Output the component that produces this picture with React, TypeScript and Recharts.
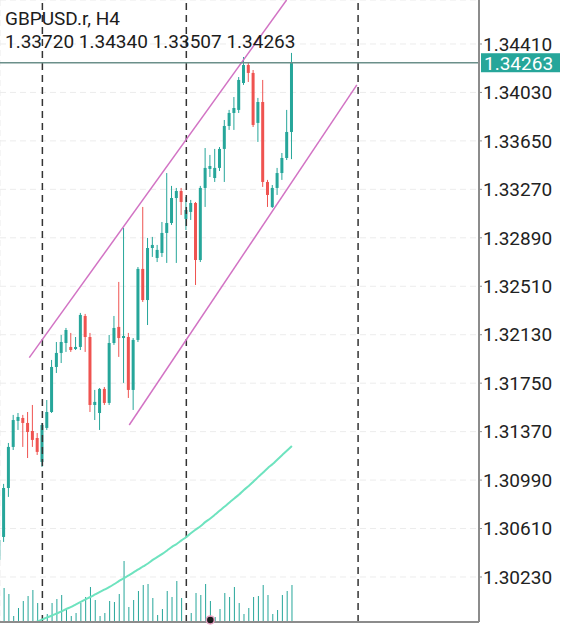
import { ComposedChart, Bar, Line, XAxis, YAxis, CartesianGrid, ReferenceLine, ReferenceDot } from 'recharts';

const SYMBOL = 'GBPUSD.r, H4';

// H4 candles, oldest first
const OPEN = [
  1.30364, 1.30544, 1.30928, 1.3125, 1.31454, 1.31477, 1.31438, 1.31375, 1.3132, 1.31132,
  1.31399, 1.31524, 1.31877, 1.31987, 1.32065, 1.32034, 1.32018, 1.32034, 1.32277, 1.32112,
  1.31579, 1.31516, 1.31705, 1.31595, 1.32065, 1.32191, 1.32104, 1.32112, 1.31697, 1.32089,
  1.32646, 1.32402, 1.3281, 1.32732, 1.32771, 1.32928, 1.33006, 1.33202, 1.33257, 1.33038,
  1.33093, 1.33163, 1.32716, 1.33281, 1.3343, 1.33359, 1.33438, 1.33587, 1.33767, 1.33869,
  1.33893, 1.34104, 1.34245, 1.34183, 1.33791, 1.33955, 1.33328, 1.33132, 1.33281, 1.33398,
  1.33516, 1.3372,
];
const HIGH = [
  1.30544, 1.3096, 1.31281, 1.31501, 1.31516, 1.31501, 1.31524, 1.31579, 1.31359, 1.31438,
  1.31618, 1.31932, 1.32073, 1.32128, 1.32183, 1.32144, 1.32112, 1.32301, 1.32293, 1.32144,
  1.31697, 1.31712, 1.3172, 1.32128, 1.32277, 1.32544, 1.32967, 1.32144, 1.32104, 1.32661,
  1.33132, 1.32889, 1.32897, 1.32834, 1.33014, 1.33398, 1.33297, 1.33281, 1.33281, 1.3321,
  1.33187, 1.33171, 1.33297, 1.33594, 1.3354, 1.33587, 1.33602, 1.33814, 1.33893, 1.33994,
  1.34151, 1.34308, 1.34261, 1.34206, 1.33987, 1.34128, 1.33344, 1.33304, 1.33438, 1.33555,
  1.33893, 1.3434,
];
const LOW = [
  1.30324, 1.30505, 1.30858, 1.31226, 1.31383, 1.3125, 1.31163, 1.3125, 1.31187, 1.31093,
  1.31383, 1.31516, 1.3183, 1.31908, 1.31995, 1.31995, 1.3201, 1.3201, 1.31995, 1.31524,
  1.31461, 1.31383, 1.31579, 1.31579, 1.3205, 1.31956, 1.31752, 1.31634, 1.3154, 1.32073,
  1.32387, 1.32206, 1.3274, 1.327, 1.3274, 1.32693, 1.32991, 1.32693, 1.33069, 1.32951,
  1.3303, 1.3252, 1.327, 1.33132, 1.33367, 1.33328, 1.33414, 1.33328, 1.33736, 1.33736,
  1.33869, 1.34089, 1.34112, 1.33759, 1.33642, 1.33289, 1.33132, 1.33124, 1.33226, 1.33344,
  1.335, 1.33507,
];
const CLOSE = [
  1.3052, 1.30928, 1.3125, 1.31461, 1.31485, 1.31438, 1.31367, 1.31305, 1.31211, 1.31422,
  1.31524, 1.31877, 1.31987, 1.32073, 1.32167, 1.3201, 1.32034, 1.32285, 1.32112, 1.31579,
  1.31603, 1.31705, 1.31595, 1.32065, 1.32183, 1.32104, 1.3212, 1.31697, 1.32089, 1.32646,
  1.32402, 1.3281, 1.32834, 1.32795, 1.32928, 1.33006, 1.33202, 1.33257, 1.33171, 1.33108,
  1.33163, 1.32716, 1.33281, 1.33438, 1.33453, 1.33438, 1.33587, 1.33767, 1.33869, 1.33908,
  1.34128, 1.34245, 1.34183, 1.33775, 1.33955, 1.33328, 1.33226, 1.33281, 1.33398, 1.33516,
  1.3372, 1.34263,
];
// tick volume
const VOLUME = [
  2000, 3400, 2800, 600, 1400, 2100, 2600, 3200, 1900, 500,
  800, 1900, 2300, 2700, 1300, 600, 900, 1900, 2500, 3500,
  2200, 600, 900, 2100, 2000, 2800, 6100, 1500, 2200, 3100,
  3700, 3800, 2400, 700, 1300, 3100, 2500, 4100, 2400, 600,
  900, 2900, 2700, 3800, 2100, 500, 1300, 2900, 2500, 3500,
  1900, 800, 1400, 2500, 2600, 3700, 2700, 800, 1200, 2700,
  3100, 3700,
];
// slow moving average
const MA = [
  null, null, null, null, null, null, 1.29846, 1.2987, 1.29881, 1.29897,
  1.29913, 1.29928, 1.29944, 1.2996, 1.29979, 1.29995, 1.30015, 1.30034, 1.30054, 1.30073,
  1.30093, 1.30113, 1.30132, 1.30152, 1.30175, 1.30199, 1.30222, 1.30242, 1.30266, 1.30289,
  1.30313, 1.30336, 1.30364, 1.30387, 1.30411, 1.30438, 1.30466, 1.30489, 1.30517, 1.30544,
  1.30575, 1.30603, 1.3063, 1.30662, 1.30689, 1.3072, 1.30752, 1.30783, 1.30815, 1.30846,
  1.30877, 1.30913, 1.30944, 1.30979, 1.31015, 1.3105, 1.31085, 1.31116, 1.31152, 1.31187,
  1.31222, 1.31258,
];

const PRICE_TICKS = [1.3441, 1.3403, 1.3365, 1.3327, 1.3289, 1.3251, 1.3213, 1.3175, 1.3137, 1.3099, 1.3061, 1.3023];
const GRID_X = [9, 19, 29, 39, 49, 59, 69, 79, 89, 99];
const WEEK_BREAKS = [9, 39, 74.8];
const CHANNEL_UPPER = [{ x: 6.27, y: 1.3195 }, { x: 59.9, y: 1.34755 }];
const CHANNEL_LOWER = [{ x: 27.1, y: 1.31422 }, { x: 74.54, y: 1.34089 }];
const TRADE_MARK = { x: 44, y: 1.29893 };

const UP = '#26a69a';
const DOWN = '#ef5350';
const FONT = 'Roboto, sans-serif';

const data = OPEN.map((open, i) => ({
  i,
  open,
  high: HIGH[i],
  low: LOW[i],
  close: CLOSE[i],
  volume: VOLUME[i],
  ma: MA[i],
}));

const last = data[data.length - 1];

const Candle = (props: any) => {
  const { x, y, width, height, payload } = props;
  const { open, close, high, low } = payload;
  const color = close >= open ? UP : DOWN;
  const cx = x + width / 2;
  const top = Math.min(y, y + height);
  const h = Math.abs(height);
  const range = high - low || 1;
  const at = (v: number) => top + ((high - v) / range) * h;
  const bTop = at(Math.max(open, close));
  const bBot = at(Math.min(open, close));
  return (
    <g>
      <line x1={cx} x2={cx} y1={top} y2={top + h} stroke={color} strokeWidth={1} />
      <rect x={cx - 1.5} y={bTop} width={3} height={Math.max(bBot - bTop, 1)} fill={color} />
    </g>
  );
};

const VolumeTick = (props: any) => {
  const { x, y, width, height } = props;
  const cx = x + width / 2;
  return <line x1={cx} x2={cx} y1={y} y2={y + height} stroke={UP} strokeWidth={1} />;
};

const PriceTag = (props: any) => {
  const { viewBox, text } = props;
  const right = viewBox.x + viewBox.width;
  return (
    <g>
      <rect x={right + 2} y={viewBox.y - 9.5} width={79} height={19} fill={UP} />
      <text x={right + 5} y={viewBox.y} dy="0.36em" fill="#fff" fontSize={19} fontFamily={FONT}>
        {text}
      </text>
    </g>
  );
};

export default function App() {
  return (
    <div style={{ position: 'absolute', left: 0, top: 0, width: 575, height: 625, background: '#fff' }}>
      <ComposedChart width={575} height={625} data={data} margin={{ top: 0, right: 0, bottom: 0, left: 0 }}>
        <CartesianGrid stroke="#ececec" strokeDasharray="6 4" />
        <XAxis
          dataKey="i"
          type="number"
          domain={[0.167, 100]}
          ticks={GRID_X}
          allowDataOverflow
          tick={false}
          tickLine={false}
          axisLine={{ stroke: '#8c8c8c', strokeWidth: 2 }}
          height={3}
        />
        <XAxis xAxisId="v" dataKey="i" type="number" domain={[0.167, 100]} allowDataOverflow hide />
        <YAxis
          orientation="right"
          domain={[1.29877, 1.34755]}
          ticks={PRICE_TICKS}
          allowDataOverflow
          width={96}
          tickSize={3}
          tickMargin={1}
          tickFormatter={(v: number) => v.toFixed(5)}
          tick={{ fill: '#222', fontSize: 19, fontFamily: FONT, textAnchor: 'start' }}
          tickLine={{ stroke: '#8c8c8c' }}
          axisLine={{ stroke: '#8c8c8c', strokeWidth: 2 }}
        />
        <YAxis yAxisId="v" domain={[0, 62200]} hide />

        <Bar xAxisId="v" yAxisId="v" dataKey="volume" barSize={3} shape={<VolumeTick />} isAnimationActive={false} />

        {WEEK_BREAKS.map((x) => (
          <ReferenceLine key={x} x={x} stroke="#333" strokeWidth={1.5} strokeDasharray="7 5" />
        ))}

        <Line
          dataKey="ma"
          type="monotone"
          stroke="#6ee3bf"
          strokeWidth={2}
          dot={false}
          activeDot={false}
          isAnimationActive={false}
        />

        <Bar
          dataKey={(d: any) => [d.low, d.high]}
          barSize={4}
          shape={<Candle />}
          isAnimationActive={false}
        />

        <ReferenceLine segment={CHANNEL_UPPER} stroke="#d273c4" strokeWidth={1.5} ifOverflow="hidden" />
        <ReferenceLine segment={CHANNEL_LOWER} stroke="#d273c4" strokeWidth={1.5} ifOverflow="hidden" />

        <ReferenceLine
          y={last.close}
          stroke="#6b8f8a"
          strokeWidth={1.5}
          label={(p: any) => <PriceTag {...p} text={last.close.toFixed(5)} />}
        />

        <ReferenceDot x={TRADE_MARK.x} y={TRADE_MARK.y} r={4} fill="#1b1b1b" stroke="#e7a3c4" strokeWidth={1.5} />
      </ComposedChart>

      <div
        style={{
          position: 'absolute',
          left: 5,
          top: 6.5,
          fontFamily: FONT,
          fontSize: 19,
          lineHeight: '23.5px',
          color: '#1c1c1c',
          pointerEvents: 'none',
          whiteSpace: 'nowrap',
        }}
      >
        <div>{SYMBOL}</div>
        <div>
          {[last.open, last.high, last.low, last.close].map((v) => v.toFixed(5)).join(' ')}
        </div>
      </div>
    </div>
  );
}
